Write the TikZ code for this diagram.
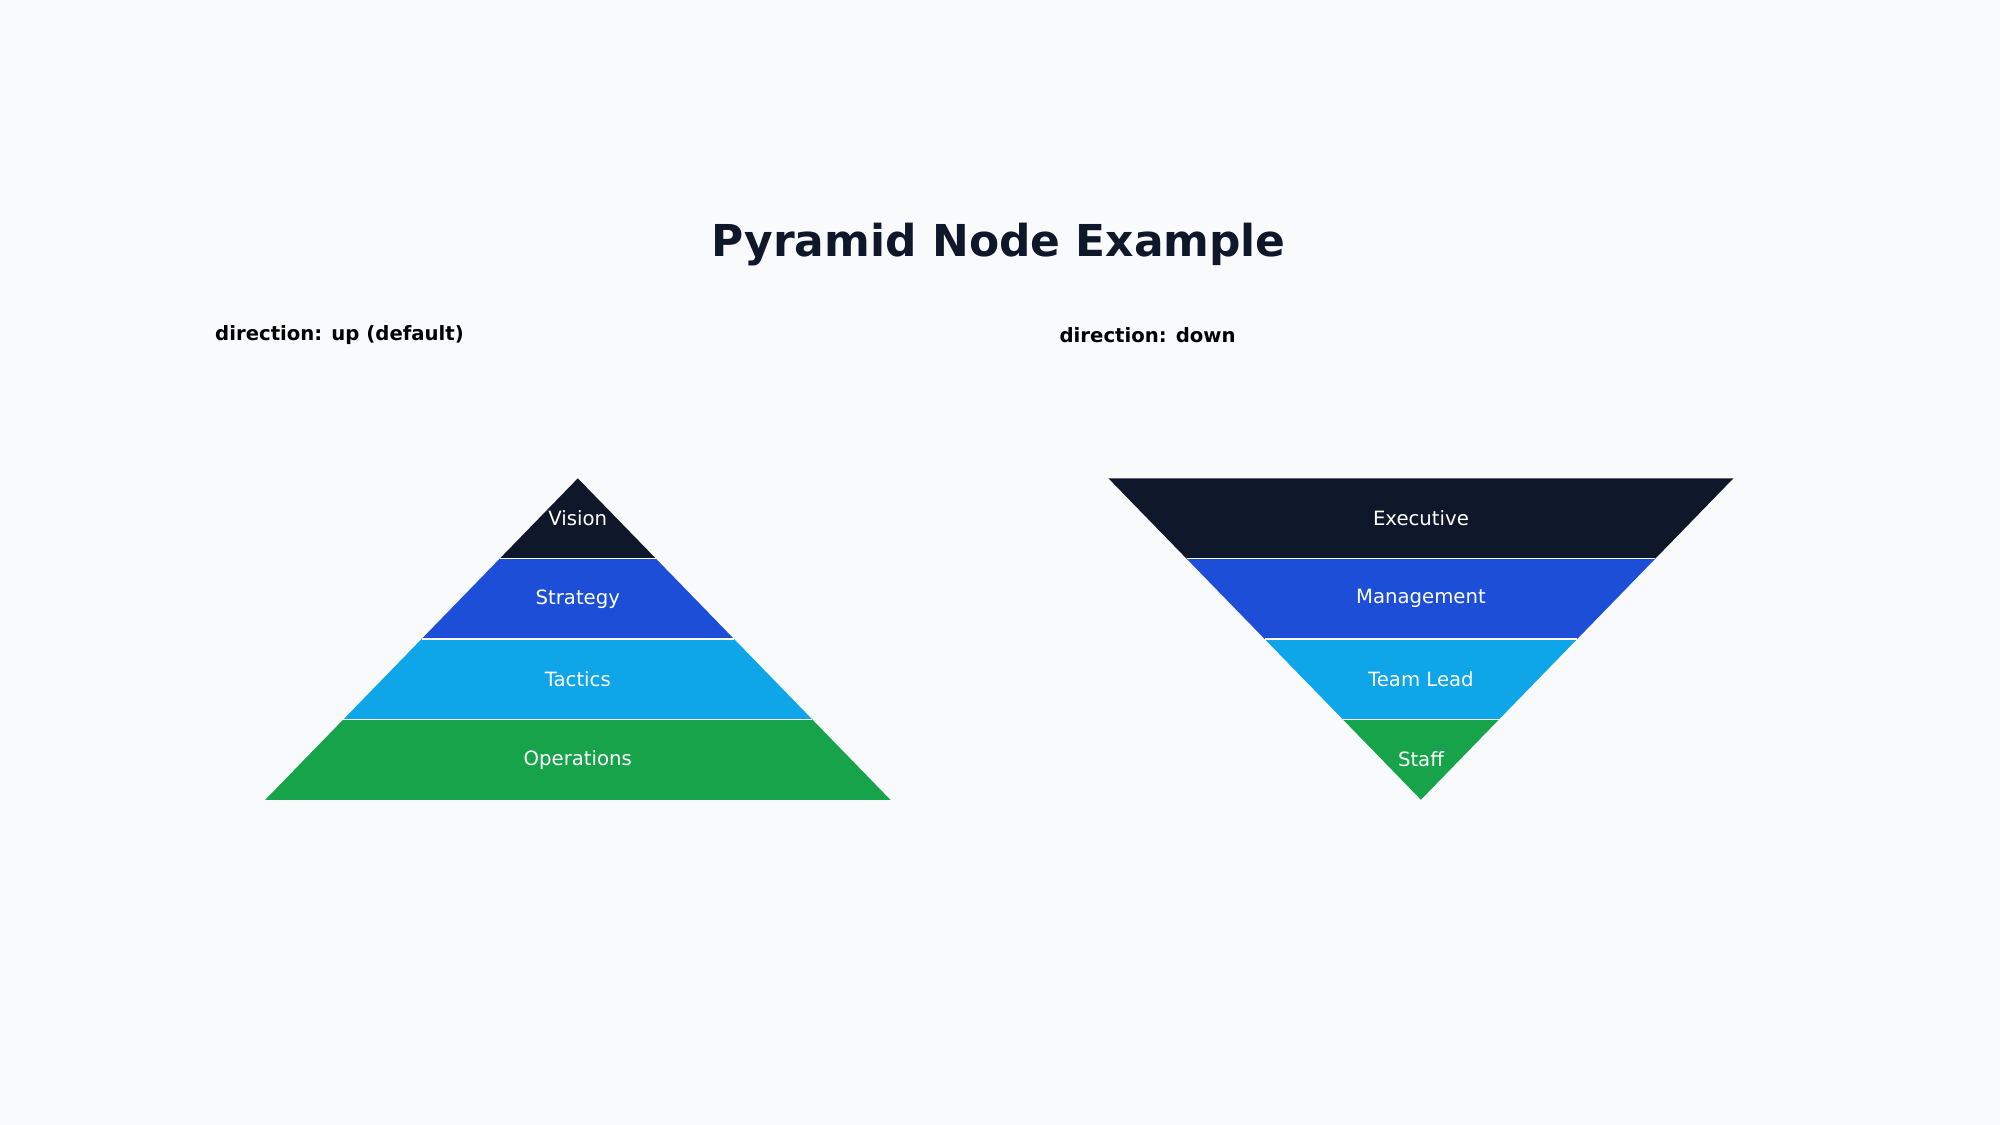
\documentclass[tikz,border=0pt]{standalone}
\usepackage{fontspec}
\setmainfont{DejaVu Sans}
\usetikzlibrary{positioning}
\definecolor{bgc}{HTML}{F8FAFC}
\definecolor{lvlA}{HTML}{0F172A}
\definecolor{lvlB}{HTML}{1D4ED8}
\definecolor{lvlC}{HTML}{0EA5E9}
\definecolor{lvlD}{HTML}{16A34A}
\begin{document}
\begin{tikzpicture}[x=0.012755cm,y=-0.012755cm]
  \tikzset{title/.style = {font=\bfseries\fontsize{12.5pt}{14pt}\selectfont, text=lvlA}}
  \tikzset{caption/.style = {font=\bfseries\fontsize{5.6pt}{7pt}\selectfont, anchor=west, text=black}}
  \tikzset{layer/.style = {font=\fontsize{5.6pt}{7pt}\selectfont, text=white}}
  \tikzset{sep/.style = {draw=white, line width=0.35pt}}

  \fill[bgc] (0,0) rectangle (1568,882);
  \node[title] (title) at (783,192) {Pyramid Node Example};
  \node[caption] (capUp) at (159,263) {direction: up (default)};
  \node[caption] (capDown) at (821,263) {direction: down};

  % up pyramid
  \foreach \i/\txt/\col in {0/Vision/lvlA,1/Strategy/lvlB,2/Tactics/lvlC,3/Operations/lvlD}{
    \fill[\col] ({453-61.25*\i},{375+63*\i}) -- ({453+61.25*\i},{375+63*\i})
      -- ({453+61.25*(\i+1)},{438+63*\i}) -- ({453-61.25*(\i+1)},{438+63*\i}) -- cycle;
    \node[layer] (up\i) at (453,{406.5+63*\i}) {\txt};
  }
  \foreach \i in {1,2,3}
    \draw[sep] ({453-61.25*\i},{375+63*\i}) -- ({453+61.25*\i},{375+63*\i});

  % down pyramid
  \foreach \i/\txt/\col in {0/Executive/lvlA,1/Management/lvlB,2/Team Lead/lvlC,3/Staff/lvlD}{
    \fill[\col] ({1114-61.25*(4-\i)},{375+63*\i}) -- ({1114+61.25*(4-\i)},{375+63*\i})
      -- ({1114+61.25*(3-\i)},{438+63*\i}) -- ({1114-61.25*(3-\i)},{438+63*\i}) -- cycle;
    \node[layer] (down\i) at (1114,{406.5+63*\i}) {\txt};
  }
  \foreach \i in {1,2,3}
    \draw[sep] ({1114-61.25*(4-\i)},{375+63*\i}) -- ({1114+61.25*(4-\i)},{375+63*\i});
\end{tikzpicture}
\end{document}
